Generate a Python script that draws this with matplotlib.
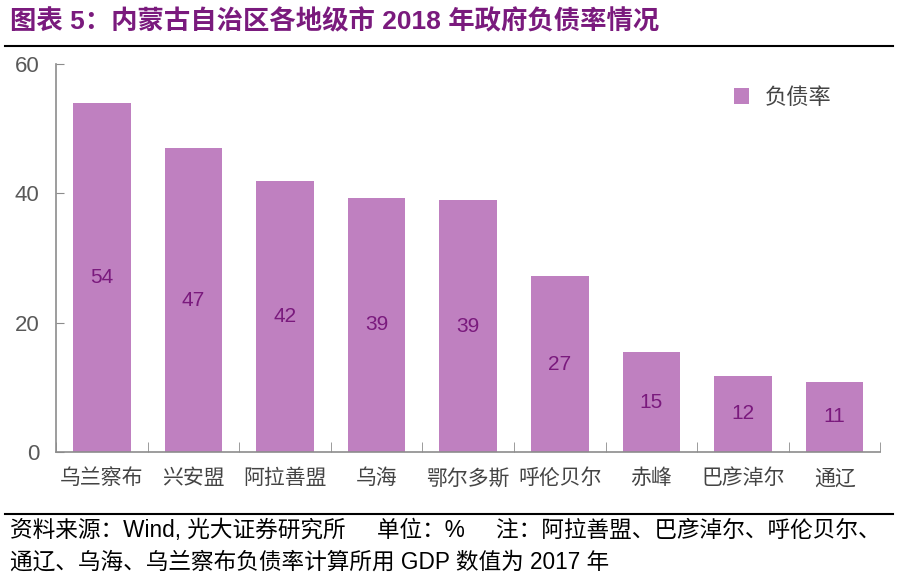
import matplotlib
matplotlib.use("Agg")
import matplotlib.pyplot as plt
from matplotlib.lines import Line2D

plt.rcParams['font.family'] = ['Noto Sans CJK SC', 'DejaVu Sans']
latin_cjk = ['Liberation Sans', 'Noto Sans CJK SC', 'DejaVu Sans']

# 数据
cities = ["乌兰察布", "兴安盟", "阿拉善盟", "乌海", "鄂尔多斯", "呼伦贝尔", "赤峰", "巴彦淖尔", "通辽"]
debt_ratio = [53.9, 47.0, 41.9, 39.3, 38.9, 27.2, 15.4, 11.8, 10.9]
y_ticks = [0, 20, 40, 60]

bar_color = "#BF80C0"
text_purple = "#7A1A7D"
axis_gray = "#8C8C8C"

fig = plt.figure(figsize=(9, 5.8), dpi=100)
ax = fig.add_axes([0.0622, 0.2207, 0.916, 0.669])

x = range(len(cities))
ax.bar(x, debt_ratio, width=0.63, color=bar_color, label="负债率", zorder=2)

for xi, v in zip(x, debt_ratio):
    ax.text(xi, v / 2, f"{round(v)}", ha="center", va="center",
            fontsize=15, color=text_purple, family=latin_cjk)

ax.set_xlim(-0.5, len(cities) - 0.5)
ax.set_ylim(0, 60)
ax.set_yticks(y_ticks)
ax.set_yticklabels([str(t) for t in y_ticks], fontsize=16, color="#595959",
                   family=latin_cjk)
ax.tick_params(axis="y", direction="in", length=6, color=axis_gray, pad=12)

ax.set_xticks(list(x))
ax.set_xticklabels(cities, fontsize=15, color="#444444", fontweight="light")
ax.tick_params(axis="x", length=0, pad=11)
ax.set_xticks([i + 0.5 for i in range(-1, len(cities))], minor=True)
ax.tick_params(axis="x", which="minor", direction="in", length=7, color=axis_gray)

for s in ["top", "right"]:
    ax.spines[s].set_visible(False)
for s in ["left", "bottom"]:
    ax.spines[s].set_color(axis_gray)
    ax.spines[s].set_linewidth(1.2)

leg = ax.legend(loc="upper right", bbox_to_anchor=(0.965, 0.995), frameon=False,
                prop={"size": 16, "weight": "light"}, handlelength=0.7,
                handleheight=0.7, handletextpad=0.7)
for t in leg.get_texts():
    t.set_color("#444444")

# 标题与页脚
fig.text(0.011, 0.962, "图表 5：内蒙古自治区各地级市 2018 年政府负债率情况", fontsize=19,
         fontweight="bold", color=text_purple, va="center", family=latin_cjk)
fig.add_artist(Line2D([0.006, 0.992], [0.921, 0.921], color="black", lw=1.5))
fig.add_artist(Line2D([0.006, 0.992], [0.114, 0.114], color="black", lw=1.5))
fig.text(0.011, 0.085, "资料来源：Wind, 光大证券研究所     单位：%     注：阿拉善盟、巴彦淖尔、呼伦贝尔、",
         fontsize=16.3, color="black", va="center", family=latin_cjk)
fig.text(0.011, 0.030, "通辽、乌海、乌兰察布负债率计算所用 GDP 数值为 2017 年",
         fontsize=16.3, color="black", va="center", family=latin_cjk)

fig.savefig("out.png", dpi=100)
